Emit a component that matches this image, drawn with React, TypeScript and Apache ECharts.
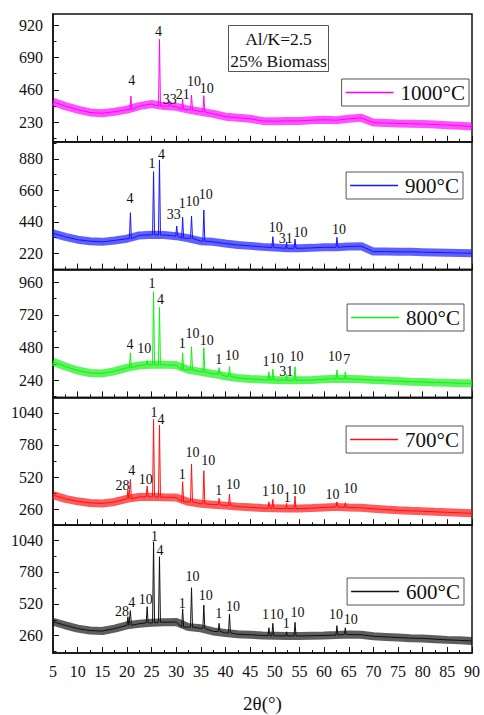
import React, { useEffect, useRef } from "react";
import * as echarts from "echarts";

// 2θ positions (degrees) where the background level was read
const SAMPLE_X = [
  5, 7.5, 10, 12.5, 15, 17.5, 20, 22.5, 25, 27.5, 30, 32.5, 35, 37.5, 40, 42.5, 45,
  47.5, 50, 52.5, 55, 57.5, 60, 62.5, 65, 67.5, 70, 72.5, 75, 77.5, 80, 82.5, 85, 87.5, 90,
];

// background intensity at SAMPLE_X for each calcination temperature
const BASE_1000 = [
  376, 345, 320, 300, 294, 305, 320, 345, 360, 345, 340, 320, 305, 290, 270, 262, 255,
  240, 238, 240, 240, 245, 248, 245, 255, 262, 228, 225, 222, 220, 218, 214, 210, 206, 200,
];
const BASE_900 = [
  360, 335, 315, 305, 300, 310, 322, 345, 350, 348, 340, 325, 305, 300, 288, 278, 272,
  265, 260, 255, 255, 258, 262, 262, 268, 270, 232, 232, 230, 230, 228, 226, 224, 222, 220,
];
const BASE_800 = [
  375, 340, 310, 292, 289, 305, 330, 348, 352, 352, 350, 315, 300, 285, 268, 255, 248,
  244, 240, 238, 238, 240, 246, 250, 248, 245, 240, 236, 232, 228, 226, 222, 220, 216, 216,
];
const BASE_700 = [
  375, 345, 325, 312, 308, 320, 345, 360, 362, 358, 355, 320, 305, 298, 290, 282, 276,
  270, 268, 266, 266, 270, 275, 280, 275, 272, 265, 258, 252, 248, 245, 240, 236, 232, 228,
];
const BASE_600 = [
  374, 345, 318, 302, 298, 318, 345, 358, 365, 370, 372, 330, 320, 295, 282, 272, 268,
  262, 260, 258, 258, 260, 262, 265, 270, 268, 255, 250, 245, 240, 238, 232, 226, 222, 217,
];

// diffraction peaks: [2θ, peak intensity]
const PEAKS_1000 = [
  [20.8, 416], [26.6, 818], [28.7, 380], [31.3, 395], [33.1, 424], [35.6, 419],
];
const PEAKS_900 = [
  [20.7, 504], [25.4, 791], [26.6, 873], [30.1, 411], [31.3, 472], [33.1, 481],
  [35.6, 523], [49.6, 336], [52.4, 300], [54.1, 320], [62.6, 332],
];
const PEAKS_800 = [
  [20.7, 441], [24.1, 385], [25.4, 891], [26.6, 776], [31.3, 441], [33.1, 485],
  [35.6, 478], [38.7, 331], [40.8, 338], [48.8, 300], [49.6, 319], [52.4, 279],
  [54.1, 338], [62.6, 314], [64.3, 301],
];
const PEAKS_700 = [
  [20.2, 416], [20.7, 502], [24.1, 448], [25.4, 986], [26.6, 941], [31.3, 483],
  [33.1, 626], [35.6, 572], [38.7, 349], [40.8, 383], [48.8, 321], [49.6, 341],
  [52.4, 308], [54.1, 367], [62.6, 321], [64.3, 313],
];
const PEAKS_600 = [
  [20.2, 415], [20.7, 464], [24.1, 497], [25.4, 1026], [26.6, 904], [31.3, 478],
  [33.1, 651], [35.6, 510], [38.7, 361], [40.8, 437], [48.8, 325], [49.6, 361],
  [52.4, 292], [54.1, 369], [62.6, 342], [64.3, 325],
];

// phase labels: [2θ, intensity, phase number]
const LABELS_1000 = [
  [21.0, 530, "4"], [26.4, 877, "4"], [28.7, 395, "33"], [31.3, 428, "21"],
  [33.6, 523, "10"], [36.2, 471, "10"],
];
const LABELS_900 = [
  [20.6, 600, "4"], [25.1, 850, "1"], [27.0, 913, "4"], [29.5, 488, "33"],
  [31.2, 570, "1"], [33.3, 579, "10"], [36.0, 628, "10"], [50.2, 404, "10"],
  [52.2, 326, "31"], [55.2, 364, "10"], [63.0, 388, "10"],
];
const LABELS_800 = [
  [20.6, 503, "4"], [23.5, 474, "10"], [25.1, 953, "1"], [26.8, 835, "4"],
  [31.2, 510, "1"], [33.3, 584, "10"], [36.2, 535, "10"], [38.6, 393, "1"],
  [41.3, 424, "10"], [48.2, 375, "1"], [50.4, 400, "10"], [52.3, 306, "31"],
  [54.4, 417, "10"], [62.2, 412, "10"], [64.6, 393, "7"],
];
const LABELS_700 = [
  [19.1, 456, "28"], [21.0, 572, "4"], [23.8, 502, "10"], [25.5, 1040, "1"],
  [26.9, 989, "4"], [31.2, 543, "1"], [33.3, 720, "10"], [36.5, 658, "10"],
  [38.6, 416, "1"], [41.5, 464, "10"], [48.1, 402, "1"], [50.4, 424, "10"],
  [52.5, 354, "1"], [54.8, 421, "10"], [61.7, 383, "10"], [65.3, 429, "10"],
];
const LABELS_600 = [
  [19.0, 461, "28"], [21.0, 532, "4"], [23.8, 559, "10"], [25.6, 1067, "1"],
  [26.7, 958, "4"], [31.2, 524, "1"], [33.3, 741, "10"], [36.0, 584, "10"],
  [38.6, 437, "1"], [41.5, 497, "10"], [48.1, 429, "1"], [50.4, 434, "10"],
  [52.3, 361, "1"], [54.6, 447, "10"], [62.4, 434, "10"], [65.4, 396, "10"],
];

// y-axis tick values per panel
const Y_LABELS_1000 = [230, 460, 690, 920];
const Y_MINOR_1000 = [115, 345, 575, 805];
const Y_LABELS_900 = [220, 440, 660, 880];
const Y_MINOR_900 = [110, 330, 550, 770, 990];
const Y_LABELS_800 = [240, 480, 720, 960];
const Y_MINOR_800 = [120, 360, 600, 840];
const Y_LABELS_700 = [260, 520, 780, 1040];
const Y_MINOR_700 = [390, 650, 910];
const Y_LABELS_600 = [260, 520, 780, 1040];
const Y_MINOR_600 = [130, 390, 650, 910];

const SERIF = "Liberation Serif";

const PANELS = [
  { name: "1000°C", color: "#ff00ff", base: BASE_1000, peaks: PEAKS_1000, labels: LABELS_1000,
    min: 92, max: 998, yLabels: Y_LABELS_1000, yMinor: Y_MINOR_1000, legendTop: 79, legendRight: 15 },
  { name: "900°C", color: "#1515ff", base: BASE_900, peaks: PEAKS_900, labels: LABELS_900,
    min: 106, max: 1000, yLabels: Y_LABELS_900, yMinor: Y_MINOR_900, legendTop: 172, legendRight: 21 },
  { name: "800°C", color: "#10f010", base: BASE_800, peaks: PEAKS_800, labels: LABELS_800,
    min: 112, max: 1054, yLabels: Y_LABELS_800, yMinor: Y_MINOR_800, legendTop: 304, legendRight: 20 },
  { name: "700°C", color: "#ff1010", base: BASE_700, peaks: PEAKS_700, labels: LABELS_700,
    min: 132, max: 1164, yLabels: Y_LABELS_700, yMinor: Y_MINOR_700, legendTop: 426, legendRight: 21 },
  { name: "600°C", color: "#111111", base: BASE_600, peaks: PEAKS_600, labels: LABELS_600,
    min: 119, max: 1161, yLabels: Y_LABELS_600, yMinor: Y_MINOR_600, legendTop: 578, legendRight: 20 },
];

const GRID_TOP = 14;
const GRID_H = 127.8;

// merge background readings with the sharp reflections
function buildPattern(base: number[], peaks: number[][]) {
  const pts: number[][] = SAMPLE_X.map((x, i) => [x, base[i]]);
  for (const [p, h] of peaks) {
    let k = 0;
    for (let i = 1; i < SAMPLE_X.length; i++) {
      if (Math.abs(SAMPLE_X[i] - p) < Math.abs(SAMPLE_X[k] - p)) k = i;
    }
    const foot = base[k];
    pts.push([p - 0.2, foot], [p, h], [p + 0.2, foot]);
  }
  pts.sort((a, b) => a[0] - b[0]);
  return pts;
}

export default function App() {
  const ref = useRef<HTMLDivElement>(null);

  useEffect(() => {
    if (!ref.current) return;
    const chart = echarts.init(ref.current, null, { renderer: "svg" });

    const grids: any[] = [];
    const xAxes: any[] = [];
    const yAxes: any[] = [];
    const series: any[] = [];
    const legends: any[] = [];

    PANELS.forEach((p, i) => {
      const last = i === PANELS.length - 1;
      grids.push({
        left: 53,
        right: 12,
        top: GRID_TOP + i * GRID_H,
        height: GRID_H,
        show: true,
        borderColor: "#111",
        borderWidth: 1.5,
        backgroundColor: "transparent",
      });
      xAxes.push({
        type: "value",
        gridIndex: i,
        min: 5,
        max: 90,
        interval: 5,
        axisLine: { show: true, lineStyle: { color: "#111", width: 1.5 } },
        axisTick: { show: true, inside: true, length: 6, lineStyle: { color: "#111", width: 1 } },
        minorTick: { show: true, splitNumber: 2, length: 3, lineStyle: { color: "#111", width: 1 } },
        splitLine: { show: false },
        axisLabel: {
          show: last,
          fontFamily: SERIF,
          fontSize: 16,
          color: "#111",
          margin: 10,
          formatter: (v: number) => String(v),
        },
        name: last ? "2θ(°)" : "",
        nameLocation: "middle",
        nameGap: 41,
        nameTextStyle: { fontFamily: SERIF, fontSize: 19, color: "#111" },
      });
      yAxes.push({
        type: "value",
        gridIndex: i,
        min: p.min,
        max: p.max,
        axisLine: { show: true, lineStyle: { color: "#111", width: 1.5 } },
        axisTick: {
          show: true,
          inside: true,
          length: 6,
          customValues: p.yLabels,
          lineStyle: { color: "#111", width: 1 },
        },
        axisLabel: {
          customValues: p.yLabels,
          fontFamily: SERIF,
          fontSize: 16,
          color: "#111",
          margin: 10,
          formatter: (v: number) => String(v),
        },
        splitLine: { show: false },
      });
      yAxes.push({
        type: "value",
        gridIndex: i,
        min: p.min,
        max: p.max,
        position: "left",
        axisLine: { show: false },
        axisTick: {
          show: true,
          inside: true,
          length: 3.5,
          customValues: p.yMinor,
          lineStyle: { color: "#111", width: 1 },
        },
        axisLabel: { show: false },
        splitLine: { show: false },
      });

      // background band
      series.push({
        type: "line",
        xAxisIndex: i,
        yAxisIndex: 2 * i,
        data: SAMPLE_X.map((x, k) => [x, p.base[k]]),
        showSymbol: false,
        symbol: "none",
        silent: true,
        lineStyle: { color: p.color, width: 8, opacity: 0.68 },
        z: 2,
      });
      // full pattern with reflections
      series.push({
        type: "line",
        name: p.name,
        xAxisIndex: i,
        yAxisIndex: 2 * i,
        data: buildPattern(p.base, p.peaks),
        showSymbol: false,
        symbol: "none",
        lineStyle: { color: p.color, width: 1 },
        itemStyle: { color: p.color },
        z: 3,
      });
      // phase numbers
      series.push({
        type: "scatter",
        xAxisIndex: i,
        yAxisIndex: 2 * i,
        data: p.labels.map((l) => ({ value: [l[0], l[1]], name: String(l[2]) })),
        symbolSize: 1,
        itemStyle: { color: "#000", opacity: 0 },
        silent: true,
        label: {
          show: true,
          position: "inside",
          formatter: (d: any) => d.name,
          fontFamily: SERIF,
          fontSize: 14,
          color: "#111",
          opacity: 1,
        },
        z: 4,
      });

      legends.push({
        data: [p.name],
        right: p.legendRight,
        top: p.legendTop,
        orient: "horizontal",
        borderColor: "#555",
        borderWidth: 1,
        borderRadius: 0,
        backgroundColor: "#fff",
        padding: [3, 4, 3, 4],
        icon: "rect",
        itemWidth: 48,
        itemHeight: 1.5,
        itemGap: 6,
        selectedMode: false,
        textStyle: { fontFamily: SERIF, fontSize: 21, color: "#111", padding: [0, 0, 0, 2] },
      });
    });

    chart.setOption({
      animation: false,
      backgroundColor: "#fff",
      grid: grids,
      xAxis: xAxes,
      yAxis: yAxes,
      series,
      legend: legends,
      graphic: [
        {
          type: "group",
          left: 228,
          top: 25,
          z: 10,
          children: [
            {
              type: "rect",
              shape: { x: 0, y: 0, width: 100, height: 46 },
              style: { fill: "#fff", stroke: "#555", lineWidth: 1 },
            },
            {
              type: "text",
              x: 50,
              y: 13.5,
              style: {
                text: "Al/K=2.5",
                font: `17.5px ${SERIF}`,
                fill: "#111",
                textAlign: "center",
                textVerticalAlign: "middle",
              },
            },
            {
              type: "text",
              x: 50,
              y: 35,
              style: {
                text: "25% Biomass",
                font: `17.5px ${SERIF}`,
                fill: "#111",
                textAlign: "center",
                textVerticalAlign: "middle",
              },
            },
          ],
        },
      ],
    });

    return () => chart.dispose();
  }, []);

  return (
    <div
      ref={ref}
      style={{ position: "fixed", left: 0, top: 0, width: 484, height: 715 }}
    />
  );
}
